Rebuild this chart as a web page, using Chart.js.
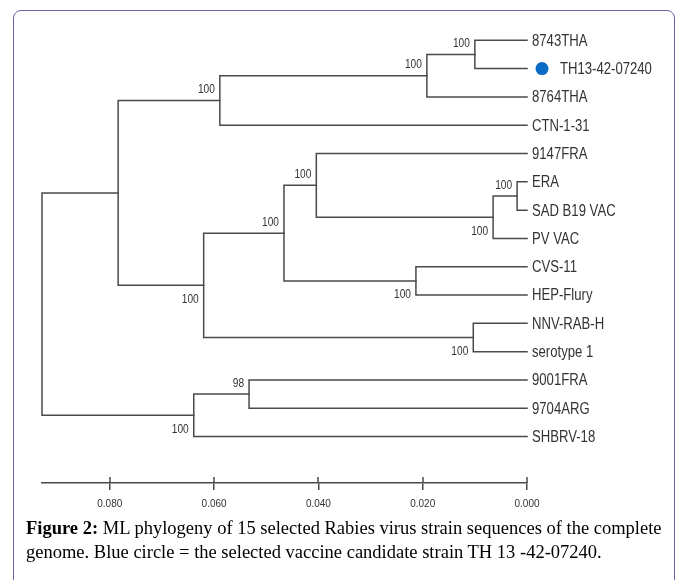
<!DOCTYPE html>
<html>
<head>
<meta charset="utf-8">
<script src="https://cdn.jsdelivr.net/npm/chart.js@4/dist/chart.umd.min.js"></script>
<style>
  html, body { margin: 0; padding: 0; background: #fff; }
  body { width: 676px; height: 580px; position: relative; overflow: hidden; }
  #frame { position: absolute; left: 13px; top: 10px; width: 662px; height: 620px;
           border: 1.5px solid #6b66a6; border-radius: 8px; box-sizing: border-box; }
  #wrap { position: absolute; left: 0; top: 0; width: 676px; height: 580px; }
  #caption { position: absolute; left: 26px; top: 516px; width: 650px;
             font-family: "Liberation Serif", "Times New Roman", serif; font-size: 18.5px;
             line-height: 24px; color: #000; white-space: nowrap; }
  #caption b { font-weight: bold; }
</style>
</head>
<body>
<div id="frame"></div>
<div id="wrap"><canvas id="c" width="676" height="580"></canvas></div>
<div id="caption"><b>Figure 2:</b> ML phylogeny of 15 selected Rabies virus strain sequences of the complete<br>genome. Blue circle = the selected vaccine candidate strain TH 13 -42-07240.</div>
<script>
// ---- data ----
const leafNames = ['8743THA','TH13-42-07240','8764THA','CTN-1-31','9147FRA','ERA','SAD B19 VAC','PV VAC','CVS-11','HEP-Flury','NNV-RAB-H','serotype 1','9001FRA','9704ARG','SHBRV-18'];
const highlightedLeaf = 'TH13-42-07240';
const nodeIds = ['N4','N3','N2','N9','N8','N7','N10','N6','N11','N5','N1','N13','N12','R'];
const nodeDepth = [0.0100,0.0192,0.0589,0.0019,0.0065,0.0404,0.0213,0.0466,0.0103,0.0620,0.0784,0.0533,0.0639,0.0930];
const nodeChildren = [['L0','L1'],['N4','L2'],['N3','L3'],['L5','L6'],['N9','L7'],['L4','N8'],['L8','L9'],['N7','N10'],['L10','L11'],['N6','N11'],['N2','N5'],['L12','L13'],['N13','L14'],['N1','N12']];
const bootstrap = [100,100,100,100,100,100,100,100,100,100,null,98,100,null];
const bootSide = ['above','above','above','above','below','above','below','above','below','below',null,'above','below',null];
const tickValues = [0.080,0.060,0.040,0.020,0.000];
const tickLabels = ['0.080','0.060','0.040','0.020','0.000'];

// ---- tree layout (depth & row) ----
const pos = {};
leafNames.forEach((n,i)=>{ pos['L'+i] = {x:0, y:i}; });
nodeIds.forEach((id,i)=>{
  const [a,b] = nodeChildren[i];
  pos[id] = {x: nodeDepth[i], y: (pos[a].y + pos[b].y)/2};
});

const LINE = '#4a4a4a';
const datasets = nodeIds.map((id,i)=>{
  const [a,b] = nodeChildren[i].map(k=>pos[k]);
  const n = pos[id];
  return {
    data: [{x:a.x,y:a.y},{x:n.x,y:a.y},{x:n.x,y:b.y},{x:b.x,y:b.y}],
    showLine: true, borderColor: LINE, borderWidth: 1.5, pointRadius: 0,
    tension: 0, fill: false, clip: 6, borderCapStyle: 'square'
  };
});

const SANS = '"Liberation Sans", Arial, sans-serif';

function narrowText(ctx, text, x, y, align, sx){
  const w = ctx.measureText(text).width * sx;
  const left = align === 'right' ? x - w : x;
  ctx.save();
  ctx.translate(left, y);
  ctx.scale(sx, 1);
  ctx.textAlign = 'left';
  ctx.fillText(text, 0, 0);
  ctx.restore();
}

const treeText = {
  id: 'treeText',
  afterDraw(chart){
    const ctx = chart.ctx, xs = chart.scales.x, ys = chart.scales.y;
    ctx.save();
    // tick marks crossing the scale bar
    const yb = chart.chartArea.bottom;
    ctx.strokeStyle = LINE; ctx.lineWidth = 1.5;
    tickValues.forEach(v=>{
      const px = Math.round(xs.getPixelForValue(v));
      ctx.beginPath(); ctx.moveTo(px, yb-6); ctx.lineTo(px, yb); ctx.stroke();
    });
    // leaf labels
    ctx.fillStyle = '#333';
    ctx.font = '16px ' + SANS;
    ctx.textBaseline = 'middle';
    leafNames.forEach((name,i)=>{
      let px = xs.getPixelForValue(0) + 5;
      const py = ys.getPixelForValue(i);
      if (name === highlightedLeaf) {
        ctx.save(); ctx.fillStyle = '#0a6cc4';
        ctx.beginPath(); ctx.arc(px + 10, py, 6.5, 0, Math.PI*2); ctx.fill(); ctx.restore();
        px += 28;
      }
      narrowText(ctx, name, px, py + 1, 'left', 0.82);
    });
    // bootstrap values
    ctx.font = '13px ' + SANS;
    nodeIds.forEach((id,i)=>{
      if (bootstrap[i] == null) return;
      const px = xs.getPixelForValue(pos[id].x) - 5;
      const py = ys.getPixelForValue(pos[id].y) + (bootSide[i] === 'above' ? -11 : 14);
      narrowText(ctx, String(bootstrap[i]), px, py, 'right', 0.78);
    });
    ctx.restore();
  }
};

new Chart(document.getElementById('c'), {
  type: 'scatter',
  data: { datasets },
  options: {
    responsive: false, animation: false, devicePixelRatio: 1,
    layout: { padding: { left: 42, right: 149, top: 12, bottom: 67 } },
    plugins: { legend: { display: false }, tooltip: { enabled: false } },
    scales: {
      x: {
        type: 'linear', reverse: true, min: 0, max: 0.0930,
        afterBuildTicks(s){ s.ticks = tickValues.map(v=>({value:v})); },
        afterFit(s){ s.height = 30; s.paddingLeft = 0; s.paddingRight = 0; },
        grid: { display: true, drawOnChartArea: false, drawTicks: true, tickLength: 7, color: LINE, lineWidth: 1.5 },
        border: { display: true, color: LINE, width: 1.5 },
        ticks: {
          autoSkip: false, maxRotation: 0, padding: 8, color: '#333',
          font: { family: SANS, size: 10 },
          callback(v){ const i = tickValues.findIndex(t=>Math.abs(t-v)<1e-9); return i>=0 ? tickLabels[i] : ''; }
        }
      },
      y: { type: 'linear', reverse: true, min: -1, max: 15.64, display: false }
    }
  },
  plugins: [treeText]
});
</script>
</body>
</html>
